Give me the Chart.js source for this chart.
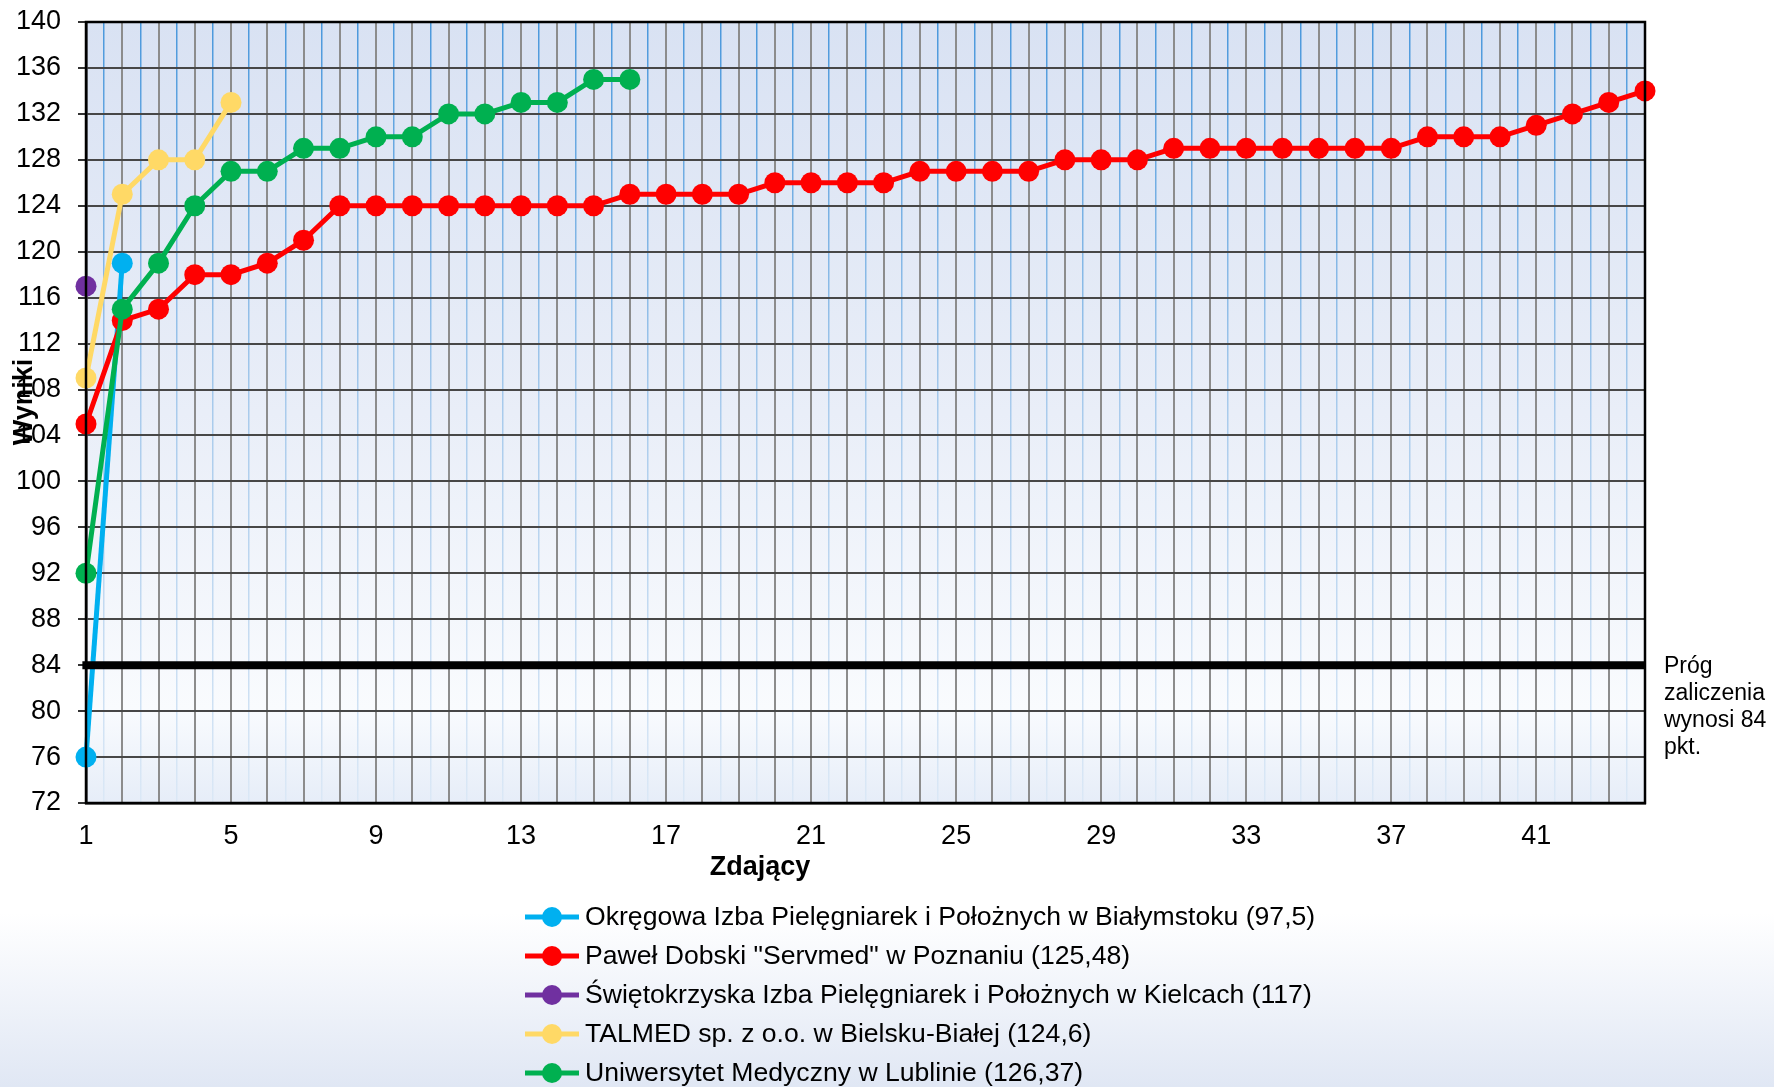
<!DOCTYPE html>
<html><head><meta charset="utf-8">
<script src="https://cdn.jsdelivr.net/npm/chart.js@4.4.0/dist/chart.umd.min.js"></script>
<style>
html,body{margin:0;padding:0;width:1774px;height:1087px;overflow:hidden;background:linear-gradient(to bottom,#ffffff 0%,#ffffff 84%,#e0e7f4 100%);}
#wrap{position:absolute;left:0;top:0;width:1774px;height:1087px;}
</style></head><body><div id="wrap"><canvas id="c"></canvas></div>
<script>
// ---- data ----
const seriesNames = [
  'Okręgowa Izba Pielęgniarek i Położnych w Białymstoku (97,5)',
  'Paweł Dobski "Servmed" w Poznaniu (125,48)',
  'Świętokrzyska Izba Pielęgniarek i Położnych w Kielcach (117)',
  'TALMED sp. z o.o. w Bielsku-Białej (124,6)',
  'Uniwersytet Medyczny w Lublinie (126,37)'
];
const seriesColors = ['#00b0f0', '#ff0000', '#7030a0', '#ffd966', '#00b050'];
const bialystokScores = [76, 119];
const servmedScores = [105,114,115,118,118,119,121,124,124,124,124,124,124,124,124,125,125,125,125,126,126,126,126,127,127,127,127,128,128,128,129,129,129,129,129,129,129,130,130,130,131,132,133,134];
const kielceScores = [117];
const talmedScores = [109,125,128,128,133];
const lublinScores = [92,115,119,124,127,127,129,129,130,130,132,132,133,133,135,135];
const thresholdValue = 84;
const thresholdLabel = ['Próg', 'zaliczenia', 'wynosi 84', 'pkt.'];
const xTitle = 'Zdający';
const yTitle = 'Wyniki';
const xMin = 1, xMax = 44, yMin = 72, yMax = 140, yStep = 4, xLabelStep = 4;

const allScores = [bialystokScores, servmedScores, kielceScores, talmedScores, lublinScores];
const toPoints = arr => arr.map((v, i) => ({x: i + 1, y: v}));

const FONT = "'Liberation Sans', Arial, sans-serif";
let blueGradCache = null;
function blueGrad(chart) {
  const a = chart.chartArea;
  if (!a) return '#9cc3e8';
  if (blueGradCache && blueGradCache.top === a.top && blueGradCache.bottom === a.bottom) return blueGradCache.g;
  const g = chart.ctx.createLinearGradient(0, a.top, 0, a.bottom);
  g.addColorStop(0, '#4a98dc');
  g.addColorStop(0.5, '#a9cbec');
  g.addColorStop(1, '#dbe8f6');
  blueGradCache = {top: a.top, bottom: a.bottom, g};
  return g;
}

const datasets = allScores.map((arr, i) => ({
  label: seriesNames[i],
  data: toPoints(arr),
  borderColor: seriesColors[i],
  backgroundColor: seriesColors[i],
  pointBackgroundColor: seriesColors[i],
  pointBorderWidth: 0,
  pointRadius: 10.5,
  pointHoverRadius: 10.5,
  borderWidth: 5,
  tension: 0,
  clip: false,
  order: 5 - i
}));
datasets.push({
  label: '__threshold',
  data: [{x: xMin - 0.1, y: thresholdValue}, {x: xMax, y: thresholdValue}],
  borderColor: '#000',
  borderWidth: 8,
  pointRadius: 0,
  clip: false,
  order: 0
});

const decorPlugin = {
  id: 'decor',
  beforeDraw(chart) {
    const {ctx, chartArea: a} = chart;
    const g = ctx.createLinearGradient(0, a.top, 0, a.bottom);
    g.addColorStop(0, '#d9e2f3');
    g.addColorStop(0.5, '#e9eef8');
    g.addColorStop(0.88, '#f9fbfe');
    g.addColorStop(1, '#e6edf8');
    ctx.save();
    ctx.fillStyle = g;
    ctx.fillRect(a.left, a.top, a.right - a.left, a.bottom - a.top);
    ctx.restore();
  },
  afterDraw(chart) {
    const {ctx, chartArea: a} = chart;
    ctx.save();
    ctx.strokeStyle = '#000';
    ctx.lineWidth = 2.5;
    ctx.strokeRect(a.left, a.top, a.right - a.left, a.bottom - a.top);
    // axis titles
    ctx.fillStyle = '#000';
    ctx.font = 'bold 27px ' + FONT;
    ctx.textAlign = 'center';
    ctx.textBaseline = 'middle';
    ctx.fillText(xTitle, 760, 868);
    ctx.save();
    ctx.translate(25, 402);
    ctx.rotate(-Math.PI / 2);
    ctx.fillText(yTitle, 0, 0);
    ctx.restore();
    // threshold note
    ctx.font = '23px ' + FONT;
    ctx.textAlign = 'left';
    thresholdLabel.forEach((t, i) => ctx.fillText(t, 1664, 667 + i * 27));
    // legend
    ctx.font = '26.6px ' + FONT;
    chart.data.datasets.forEach((ds, i) => {
      if (ds.label === '__threshold') return;
      const y = 917 + i * 39;
      ctx.strokeStyle = ds.borderColor;
      ctx.lineWidth = 5;
      ctx.beginPath(); ctx.moveTo(525, y); ctx.lineTo(579, y); ctx.stroke();
      ctx.fillStyle = ds.borderColor;
      ctx.beginPath(); ctx.arc(552, y, 10, 0, Math.PI * 2); ctx.fill();
      ctx.fillStyle = '#000';
      ctx.fillText(ds.label, 585, y + 1);
    });
    ctx.restore();
  }
};

new Chart(document.getElementById('c'), {
  type: 'line',
  data: {datasets},
  options: {
    responsive: true,
    maintainAspectRatio: false,
    devicePixelRatio: 1,
    animation: false,
    layout: {padding: {top: 22, right: 129, bottom: 0, left: 0}},
    plugins: {legend: {display: false}, tooltip: {enabled: false}},
    scales: {
      x: {
        type: 'linear',
        min: xMin, max: xMax,
        afterFit: s => { s.height = 284; s.paddingLeft = 0; s.paddingRight = 0; },
        border: {color: '#000', width: 2.5},
        grid: {
          drawTicks: false,
          color: c => (c.tick && Number.isInteger(c.tick.value)) ? '#8c8c8c' : blueGrad(c.chart),
          lineWidth: c => (c.tick && Number.isInteger(c.tick.value)) ? 2 : 1.5
        },
        ticks: {
          stepSize: 0.5,
          autoSkip: false,
          maxRotation: 0, minRotation: 0,
          padding: 17,
          color: '#000',
          font: {family: FONT, size: 27},
          callback: v => (Number.isInteger(v) && (v - xMin) % xLabelStep === 0) ? String(v) : ''
        }
      },
      y: {
        type: 'linear',
        min: yMin, max: yMax,
        afterFit: s => { s.width = 86; s.paddingTop = 0; s.paddingBottom = 0; },
        border: {color: '#000', width: 2.5},
        grid: {color: '#474747', lineWidth: 2, tickLength: 8, tickColor: '#333'},
        ticks: {
          stepSize: yStep,
          padding: 17,
          color: '#000',
          font: {family: FONT, size: 27}
        }
      }
    }
  },
  plugins: [decorPlugin]
});
</script></body></html>
